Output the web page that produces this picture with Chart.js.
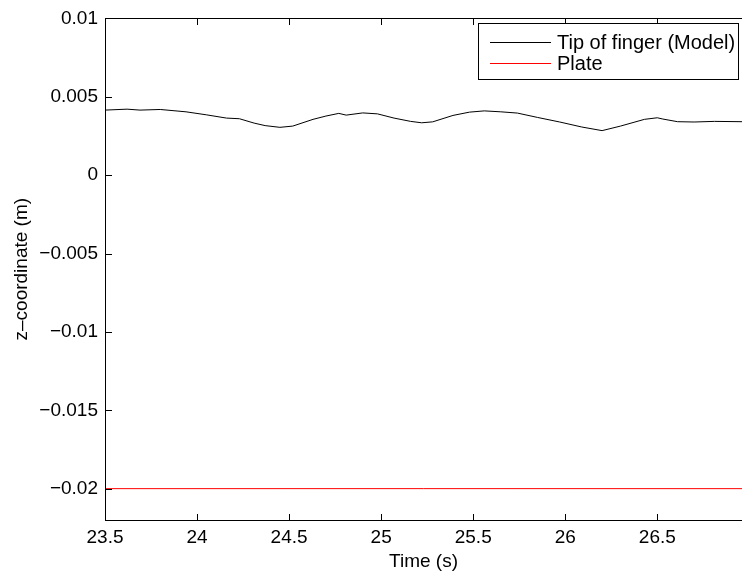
<!DOCTYPE html>
<html>
<head>
<meta charset="utf-8">
<script src="https://cdn.jsdelivr.net/npm/chart.js@4/dist/chart.umd.min.js"></script>
<style>
  html, body { margin: 0; padding: 0; background: #ffffff; overflow: hidden; }
  #wrap { width: 742px; height: 573px; position: relative; }
</style>
</head>
<body>
<div id="wrap"><canvas id="c" width="742" height="573"></canvas></div>
<script>
// ---- data ----
const tipTime = [23.50, 23.62, 23.69, 23.80, 23.94, 24.05, 24.16, 24.23, 24.31, 24.37,
                 24.45, 24.52, 24.63, 24.70, 24.77, 24.81, 24.90, 24.98, 25.07, 25.16,
                 25.22, 25.28, 25.39, 25.48, 25.56, 25.65, 25.74, 25.85, 25.97, 26.09,
                 26.20, 26.30, 26.43, 26.50, 26.53, 26.61, 26.70, 26.81, 26.96];
const tipZ = [0.00415, 0.00421, 0.00415, 0.00419, 0.00404, 0.00385, 0.00364, 0.00360, 0.00332, 0.00316,
              0.00305, 0.00313, 0.00356, 0.00377, 0.00394, 0.00383, 0.00397, 0.00391, 0.00364, 0.00343,
              0.00334, 0.00340, 0.00381, 0.00402, 0.00410, 0.00404, 0.00396, 0.00368, 0.00339, 0.00307,
              0.00284, 0.00313, 0.00356, 0.00366, 0.00358, 0.00341, 0.00339, 0.00343, 0.00341];
const plateTime = [23.50, 26.96];
const plateZ = [-0.02, -0.02];

const seriesLabels = ['Tip of finger (Model)', 'Plate'];
const seriesColors = ['#000000', '#ff0000'];
const xTickValues = [23.5, 24, 24.5, 25, 25.5, 26, 26.5];
const xTickLabels = ['23.5', '24', '24.5', '25', '25.5', '26', '26.5'];
const yTickValues = [0.01, 0.005, 0, -0.005, -0.01, -0.015, -0.02];
const yTickLabels = ['0.01', '0.005', '0', '\u22120.005', '\u22120.01', '\u22120.015', '\u22120.02'];
const xTitle = 'Time (s)';
const yTitle = 'z\u2013coordinate (m)';

const FONT = 'Liberation Sans, Arial, Helvetica, sans-serif';
const FS = 19;
const LEGEND_FS = 20;

function pts(xs, ys) { return xs.map((x, i) => ({ x: x, y: ys[i] })); }

const frame = {
  id: 'frame',
  afterDatasetsDraw(chart) {
    const ctx = chart.ctx;
    const a = chart.chartArea;
    const xs = chart.scales.x, ys = chart.scales.y;
    const TL = 6;
    const L = Math.round(a.left), T = Math.round(a.top), B = Math.round(a.bottom), R = Math.round(a.right);
    ctx.save();
    ctx.fillStyle = '#000';
    // axes box: left, top, bottom
    ctx.fillRect(L, T, 1, B - T + 1);
    ctx.fillRect(L, T, R - L + 2, 1);
    ctx.fillRect(L, B, R - L + 2, 1);
    // x ticks inside (bottom and top)
    xTickValues.forEach(v => {
      const px = Math.round(xs.getPixelForValue(v));
      ctx.fillRect(px, B - TL, 1, TL);
      ctx.fillRect(px, T + 1, 1, TL);
    });
    // y ticks inside (left)
    yTickValues.forEach(v => {
      const py = Math.round(ys.getPixelForValue(v));
      ctx.fillRect(L + 1, py, TL, 1);
    });

    // legend box
    const bx = 478, by = 23, bw = 260, bh = 56;
    ctx.fillStyle = '#fff';
    ctx.fillRect(bx, by, bw, bh);
    ctx.fillStyle = '#000';
    ctx.fillRect(bx, by, bw + 1, 1);
    ctx.fillRect(bx, by + bh, bw + 1, 1);
    ctx.fillRect(bx, by, 1, bh + 1);
    ctx.fillRect(bx + bw, by, 1, bh + 1);
    const rowsY = [42, 63];
    ctx.font = LEGEND_FS + 'px ' + FONT;
    ctx.textBaseline = 'middle';
    ctx.textAlign = 'left';
    chart.data.datasets.forEach((ds, i) => {
      ctx.fillStyle = seriesColors[i];
      ctx.fillRect(490, rowsY[i], 61, 1);
      ctx.fillStyle = '#000';
      ctx.fillText(ds.label, 557, rowsY[i] + 1);
    });
    ctx.restore();
  }
};

new Chart(document.getElementById('c'), {
  type: 'line',
  data: {
    datasets: [
      { label: seriesLabels[0], data: pts(tipTime, tipZ), borderColor: seriesColors[0], borderWidth: 1,
        pointRadius: 0, tension: 0, fill: false },
      { label: seriesLabels[1], data: pts(plateTime, plateZ), borderColor: seriesColors[1], borderWidth: 1,
        pointRadius: 0, tension: 0, fill: false }
    ]
  },
  options: {
    responsive: false,
    animation: false,
    events: [],
    layout: { padding: { top: 13, right: 0, bottom: 0, left: 0 } },
    plugins: { legend: { display: false }, tooltip: { enabled: false } },
    scales: {
      x: {
        type: 'linear', min: 23.5, max: 26.96,
        grid: { display: false, drawTicks: false },
        border: { display: false },
        afterBuildTicks(s) { s.ticks = xTickValues.map(v => ({ value: v })); },
        afterFit(s) { s.height = 53; },
        ticks: {
          color: '#000', font: { family: FONT, size: FS }, padding: 6,
          autoSkip: false, maxRotation: 0, minRotation: 0,
          callback(v) { const i = xTickValues.indexOf(v); return i >= 0 ? xTickLabels[i] : ''; }
        },
        title: { display: true, text: xTitle, color: '#000', font: { family: FONT, size: FS },
                 padding: { top: 0, bottom: 0 } }
      },
      y: {
        type: 'linear', min: -0.022, max: 0.01,
        grid: { display: false, drawTicks: false },
        border: { display: false },
        afterBuildTicks(s) { s.ticks = yTickValues.map(v => ({ value: v })); },
        afterFit(s) { s.width = 105; },
        ticks: {
          color: '#000', font: { family: FONT, size: FS }, padding: 7,
          autoSkip: false,
          callback(v) { const i = yTickValues.findIndex(t => Math.abs(t - v) < 1e-9); return i >= 0 ? yTickLabels[i] : ''; }
        },
        title: { display: true, text: yTitle, color: '#000', font: { family: FONT, size: FS },
                 padding: { top: 10, bottom: 0 } }
      }
    }
  },
  plugins: [frame]
});
</script>
</body>
</html>
